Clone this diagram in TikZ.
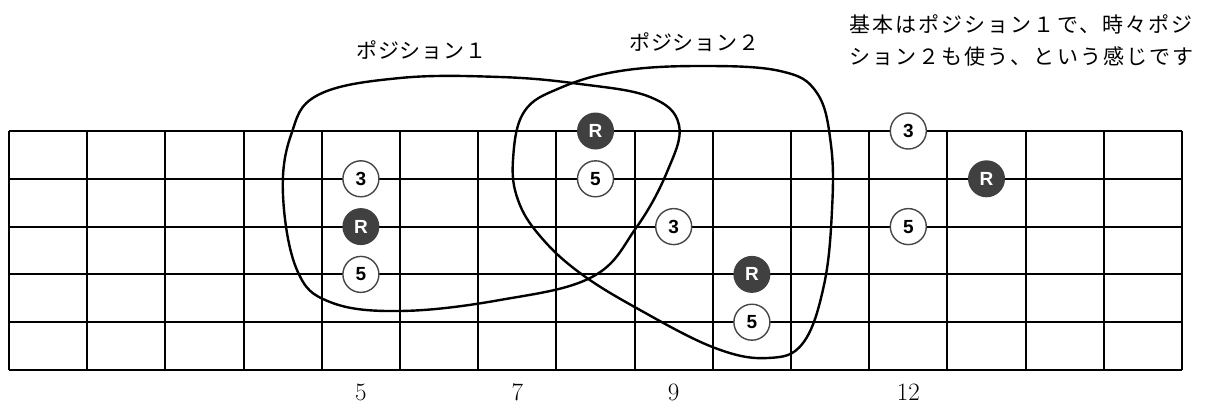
\documentclass[tikz,border=0pt]{standalone}
\usepackage{fontspec}
\newfontfamily\jp{Noto Sans CJK JP}[LetterSpace=4]
\newfontfamily\jpw{Noto Sans CJK JP}[LetterSpace=10]
\newfontfamily\lsans{Liberation Sans}
\definecolor{dotdark}{RGB}{64,64,64}
\definecolor{rimgray}{RGB}{70,70,70}
\begin{document}
\begin{tikzpicture}[x=1pt,y=-1pt,
  gridline/.style={line width=2pt,black},
  blob/.style={line width=2.4pt,black},
  wnote/.style={circle,draw=rimgray,line width=1.4pt,fill=white,minimum size=36pt,inner sep=0pt,font=\lsans\bfseries\fontsize{19}{19}\selectfont,text=black},
  dnote/.style={circle,fill=dotdark,minimum size=37pt,inner sep=0pt,font=\lsans\bfseries\fontsize{19}{19}\selectfont,text=white},
  fretnum/.style={inner sep=0pt,font=\fontsize{25}{25}\selectfont},
  jplabel/.style={inner sep=0pt,anchor=west,font=\jp\fontsize{21}{21}\selectfont},
  jpnote/.style={inner sep=0pt,anchor=west,font=\jpw\fontsize{21}{21}\selectfont}]
\useasboundingbox (0,0) rectangle (1208,405);
\fill[white] (0,0) rectangle (1208,405);
% fretboard grid
\foreach \i in {0,...,15} \draw[gridline] ({9+78.2*\i},131) -- ({9+78.2*\i},370);
\foreach \j in {0,...,5} \draw[gridline] (9,{131+47.8*\j}) -- (1182,{131+47.8*\j});
% position outlines
\draw[blob] plot[smooth cycle,tension=0.65] coordinates {
  (283,195) (291,135) (318,95) (400,78) (500,77) (580,84) (650,97) (679,125)
  (667,172) (636,228) (592,277) (500,300) (400,311) (330,302) (297,270)};
\draw[blob] plot[smooth cycle,tension=0.65] coordinates {
  (513,160) (524,112) (560,88) (620,71) (700,66) (780,71) (817,93) (831,145)
  (832,210) (824,285) (803,343) (768,358) (715,348) (640,310) (580,273)
  (540,236) (518,200)};
% notes
\node[wnote] (p1a) at (360.9,178.8) {3};
\node[dnote] (p1b) at (360.9,226.6) {R};
\node[wnote] (p1c) at (360.9,274.4) {5};
\node[dnote] (p2a) at (595.5,131) {R};
\node[wnote] (p2b) at (595.5,178.8) {5};
\node[wnote] (p2c) at (673.7,226.6) {3};
\node[dnote] (p2d) at (751.9,274.4) {R};
\node[wnote] (p2e) at (751.9,322.2) {5};
\node[wnote] (p3a) at (908.3,131) {3};
\node[dnote] (p3b) at (986.5,178.8) {R};
\node[wnote] (p3c) at (908.3,226.6) {5};
% fret numbers
\node[fretnum] (f5) at (360.9,392.5) {5};
\node[fretnum] (f7) at (517.3,392.5) {7};
\node[fretnum] (f9) at (673.7,392.5) {9};
\node[fretnum] (f12) at (908.3,392.5) {12};
% labels
\node[jplabel] (lab1) at (356,50) {ポジション１};
\node[jplabel] (lab2) at (629,42) {ポジション２};
\node[jpnote] (txt1) at (849,24) {基本はポジション１で、時々ポジ};
\node[jpnote] (txt2) at (849,56) {ション２も使う、という感じです};
\end{tikzpicture}
\end{document}
